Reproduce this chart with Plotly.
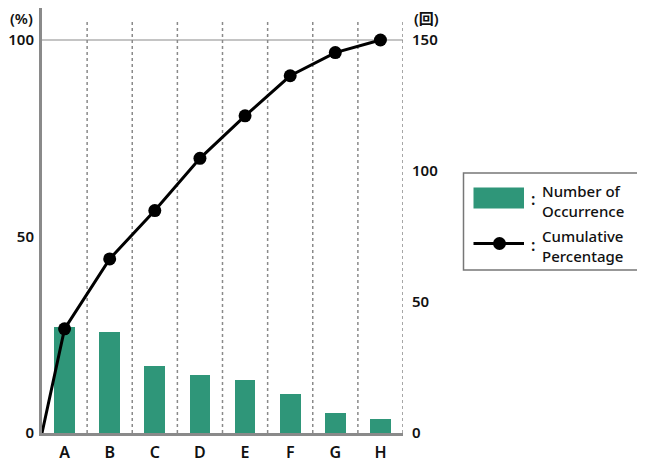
import plotly.graph_objects as go

categories = ["A", "B", "C", "D", "E", "F", "G", "H"]
occurrences = [40.6, 38.4, 25.7, 22.1, 20.1, 15.0, 7.5, 5.3]
cumulative_pct = [26.5, 44.3, 56.6, 69.9, 80.7, 90.9, 96.8, 100.0]
left_ticks = [0, 50, 100]
right_ticks = [0, 50, 100, 150]

GREEN = "#2f9679"
GRAY = "#8a8a8a"
FONT = "Noto Sans, Noto Sans CJK JP, sans-serif"
TICKFONT = dict(size=15, family=FONT, color="#111", weight=600)

# page body has an 8px margin, so the figure is 8px smaller each way
W, H = 637, 458
ML, MR, MT, MB = 34, 242, 0, 33
PW, PH = W - ML - MR, H - MT - MB
X0, Y0 = 42, 433  # screen position of plot's bottom-left corner


def px(x):
    return (x - X0) / PW


def py(y):
    return (Y0 - y) / PH


xs = list(range(len(categories)))

fig = go.Figure()
# counts on base axis (right side), percentages on overlay axis (left side, drawn on top)
fig.add_trace(go.Bar(
    x=xs, y=occurrences, yaxis="y", width=0.46,
    marker=dict(color=GREEN, line=dict(width=0)), showlegend=False,
))
fig.add_trace(go.Scatter(
    x=[-0.5] + xs, y=[0] + cumulative_pct, mode="lines+markers", yaxis="y2",
    line=dict(color="black", width=3),
    marker=dict(color="black", opacity=1, size=[0] + [13] * len(xs),
                line=dict(color="black", width=0)),
    showlegend=False, cliponaxis=False,
))

shapes = []
for i in range(len(categories)):
    shapes.append(dict(type="line", xref="x", yref="y2", x0=i + 0.5, x1=i + 0.5,
                       y0=0, y1=105.1, line=dict(color=GRAY, width=1.5, dash="dot"),
                       layer="below"))
shapes.append(dict(type="line", xref="x", yref="y2", x0=-0.5, x1=len(categories) - 0.5,
                   y0=100, y1=100, line=dict(color=GRAY, width=1.2), layer="below"))

# legend box
shapes.append(dict(type="rect", xref="paper", yref="paper", x0=px(463.5), x1=px(642),
                   y0=py(173), y1=py(270), line=dict(color="#777", width=1.5),
                   fillcolor="white"))
shapes.append(dict(type="rect", xref="paper", yref="paper", x0=px(473.5), x1=px(524),
                   y0=py(187.5), y1=py(208.5), line=dict(width=0), fillcolor=GREEN))
shapes.append(dict(type="line", xref="paper", yref="paper", x0=px(473.5), x1=px(524),
                   y0=py(243.5), y1=py(243.5), line=dict(color="black", width=3)))
shapes.append(dict(type="circle", xref="paper", yref="paper", x0=px(493), x1=px(506),
                   y0=py(237), y1=py(250), line=dict(color="black", width=0),
                   fillcolor="black"))

annotations = []
for txt, y in [(":", 199), (":", 245)]:
    annotations.append(dict(text=txt, xref="paper", yref="paper", x=px(533), y=py(y),
                            xanchor="center", yanchor="middle", showarrow=False,
                            font=dict(size=16, color="#111", family=FONT, weight=600)))
for txt, y in [("Number of<br>Occurrence", 201), ("Cumulative<br>Percentage", 246)]:
    annotations.append(dict(text=txt, xref="paper", yref="paper", x=px(540), y=py(y),
                            xanchor="left", yanchor="middle", align="left", showarrow=False,
                            font=dict(size=15, color="#111", family=FONT, weight=500)))
annotations.append(dict(text="(%)", xref="paper", yref="paper", x=px(35), y=py(18),
                        xanchor="right", yanchor="middle", showarrow=False, font=TICKFONT))
annotations.append(dict(text="(回)", xref="paper", yref="paper", x=px(412), y=py(18),
                        xanchor="left", yanchor="middle", showarrow=False, font=TICKFONT))

ymax = 100 * PH / 393.0
fig.update_layout(
    width=W, height=H,
    margin=dict(l=ML, r=MR, t=MT, b=MB, pad=0, autoexpand=False),
    paper_bgcolor="white", plot_bgcolor="white",
    font=dict(family=FONT, color="#111"),
    showlegend=False,
    bargap=0,
    xaxis=dict(range=[-0.5, len(categories) - 0.5], tickvals=xs, ticktext=categories,
               showgrid=False, zeroline=False, showline=True, linecolor=GRAY, linewidth=3,
               ticks="", tickfont=dict(size=16, family=FONT, color="#111", weight=600),
               ticklabelstandoff=3, automargin=False),
    yaxis=dict(range=[0, ymax * 1.5], tickvals=right_ticks, side="right",
               showgrid=False, zeroline=False, showline=False, ticks="",
               tickfont=TICKFONT, ticklabelstandoff=8, automargin=False),
    yaxis2=dict(range=[0, ymax], tickvals=left_ticks, overlaying="y", side="left",
                showgrid=False, zeroline=False, showline=True, linecolor=GRAY, linewidth=3,
                ticks="", tickfont=TICKFONT, ticklabelstandoff=2, automargin=False),
    shapes=shapes,
    annotations=annotations,
)

fig.write_html("out.html")
